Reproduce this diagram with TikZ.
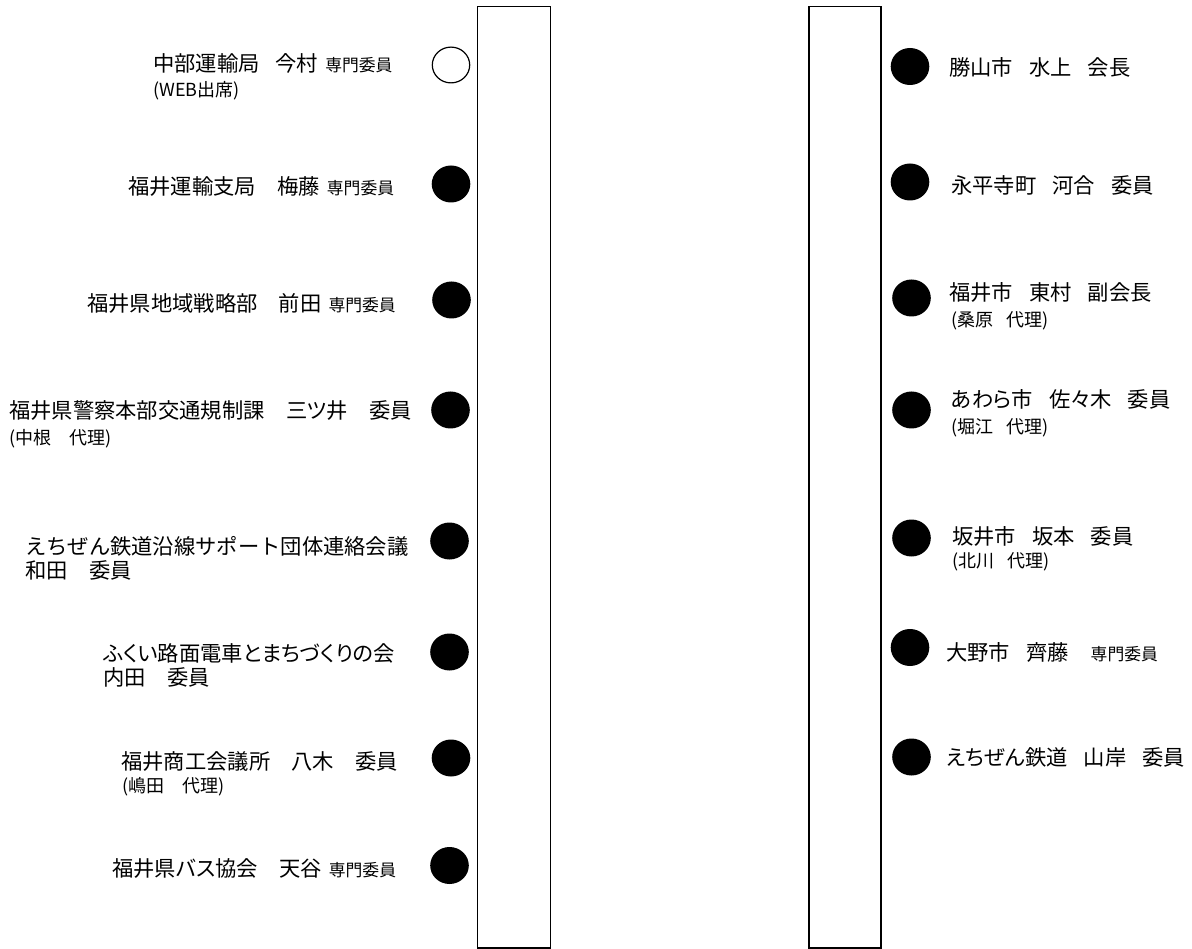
\documentclass[tikz,border=0pt]{standalone}
\usepackage{fontspec}
\setmainfont[RawFeature=+palt]{Noto Sans CJK JP}
\newfontfamily\fullwidthfont{Noto Sans CJK JP}
\usetikzlibrary{shapes.geometric}
\newcommand\mainsz{\fontsize{21.3}{25}\selectfont}
\newcommand\parsz{\fontsize{18}{21}\selectfont}
\newcommand\smsz{\fontsize{16.8}{19}\selectfont}
\newcommand\senmonx{\hspace{7pt}{\smsz 専門委員}}
\newcommand\rg{\hspace{16pt}}
\newcommand\rpg{\hspace{13pt}}
\tikzset{
  lbl/.style={anchor=base west, inner sep=0pt, font=\mainsz},
  sublbl/.style={anchor=base west, inner sep=0pt, font=\parsz},
  dotmark/.style={ellipse, fill=black, inner sep=0pt, minimum width=38.6pt, minimum height=37pt},
  opendot/.style={ellipse, draw=black, fill=white, line width=1.2pt, inner sep=0pt, minimum width=37.4pt, minimum height=35.8pt},
  tbl/.style={draw=black, line width=1.1pt}
}
\begin{document}
\begin{tikzpicture}[x=1pt, y=-1pt]
\useasboundingbox (0,0) rectangle (1192,949);
% tables
\draw[tbl] (477.5,6.5) rectangle (550.3,948);
\draw[tbl] (809,6.5) rectangle (881,948);
% left dots
\node[opendot] (l1) at (451,65) {};
\node[dotmark] (l2) at (451,184) {};
\node[dotmark] (l3) at (451.5,300) {};
\node[dotmark] (l4) at (450.5,410) {};
\node[dotmark] (l5) at (449.5,541) {};
\node[dotmark] (l6) at (449.5,652) {};
\node[dotmark] (l7) at (451,758) {};
\node[dotmark] (l8) at (449.5,865.5) {};
% right dots
\node[dotmark] (r1) at (910,66.5) {};
\node[dotmark] (r2) at (910,182) {};
\node[dotmark] (r3) at (911.5,298) {};
\node[dotmark] (r4) at (911.5,410) {};
\node[dotmark] (r5) at (911.5,538) {};
\node[dotmark] (r6) at (910,647.5) {};
\node[dotmark] (r7) at (911.5,757) {};
% left labels
\node[lbl] (t1) at (153,71.5) {中部運輸局\hspace{16pt}今村\senmonx};
\node[sublbl] (t1b) at (153,97) {(WEB出席)};
\node[lbl] (t2) at (128,195) {福井運輸支局　梅藤\senmonx};
\node[lbl] (t3) at (87,312) {福井県地域戦略部　前田\senmonx};
\node[lbl] (t4) at (9,418.5) {福井県警察本部交通規制課　三ツ井　委員};
\node[sublbl] (t4b) at (9,445) {(中根　代理)};
\node[lbl, font=\fullwidthfont\mainsz] (t5) at (25,554) {えちぜん鉄道沿線サポート団体連絡会議};
\node[lbl] (t5b) at (25,578) {和田　委員};
\node[lbl] (t6) at (103,661) {ふくい路面電車とまちづくりの会};
\node[lbl] (t6b) at (103,685) {内田　委員};
\node[lbl] (t7) at (121,769) {福井商工会議所　八木　委員};
\node[sublbl] (t7b) at (122,792) {(嶋田　代理)};
\node[lbl] (t8) at (112,876) {福井県バス協会　天谷\senmonx};
% right labels
\node[lbl] (s1) at (949,75.5) {勝山市\rg 水上\rg 会長};
\node[lbl] (s2) at (951,194) {永平寺町\rg 河合\rg 委員};
\node[lbl] (s3) at (949,301) {福井市\rg 東村\rg 副会長};
\node[sublbl] (s3b) at (951,327) {(桑原\rpg 代理)};
\node[lbl] (s4) at (951,408) {あわら市\rg 佐々木\rg 委員};
\node[sublbl] (s4b) at (951,433.5) {(堀江\rpg 代理)};
\node[lbl] (s5) at (952,544) {坂井市\rg 坂本\rg 委員};
\node[sublbl] (s5b) at (952,567) {(北川\rpg 代理)};
\node[lbl] (s6) at (946,660) {大野市\rg 齊藤\hspace{22pt}{\smsz 専門委員}};
\node[lbl] (s7) at (946,765) {えちぜん鉄道\rg 山岸\rg 委員};
\end{tikzpicture}
\end{document}
